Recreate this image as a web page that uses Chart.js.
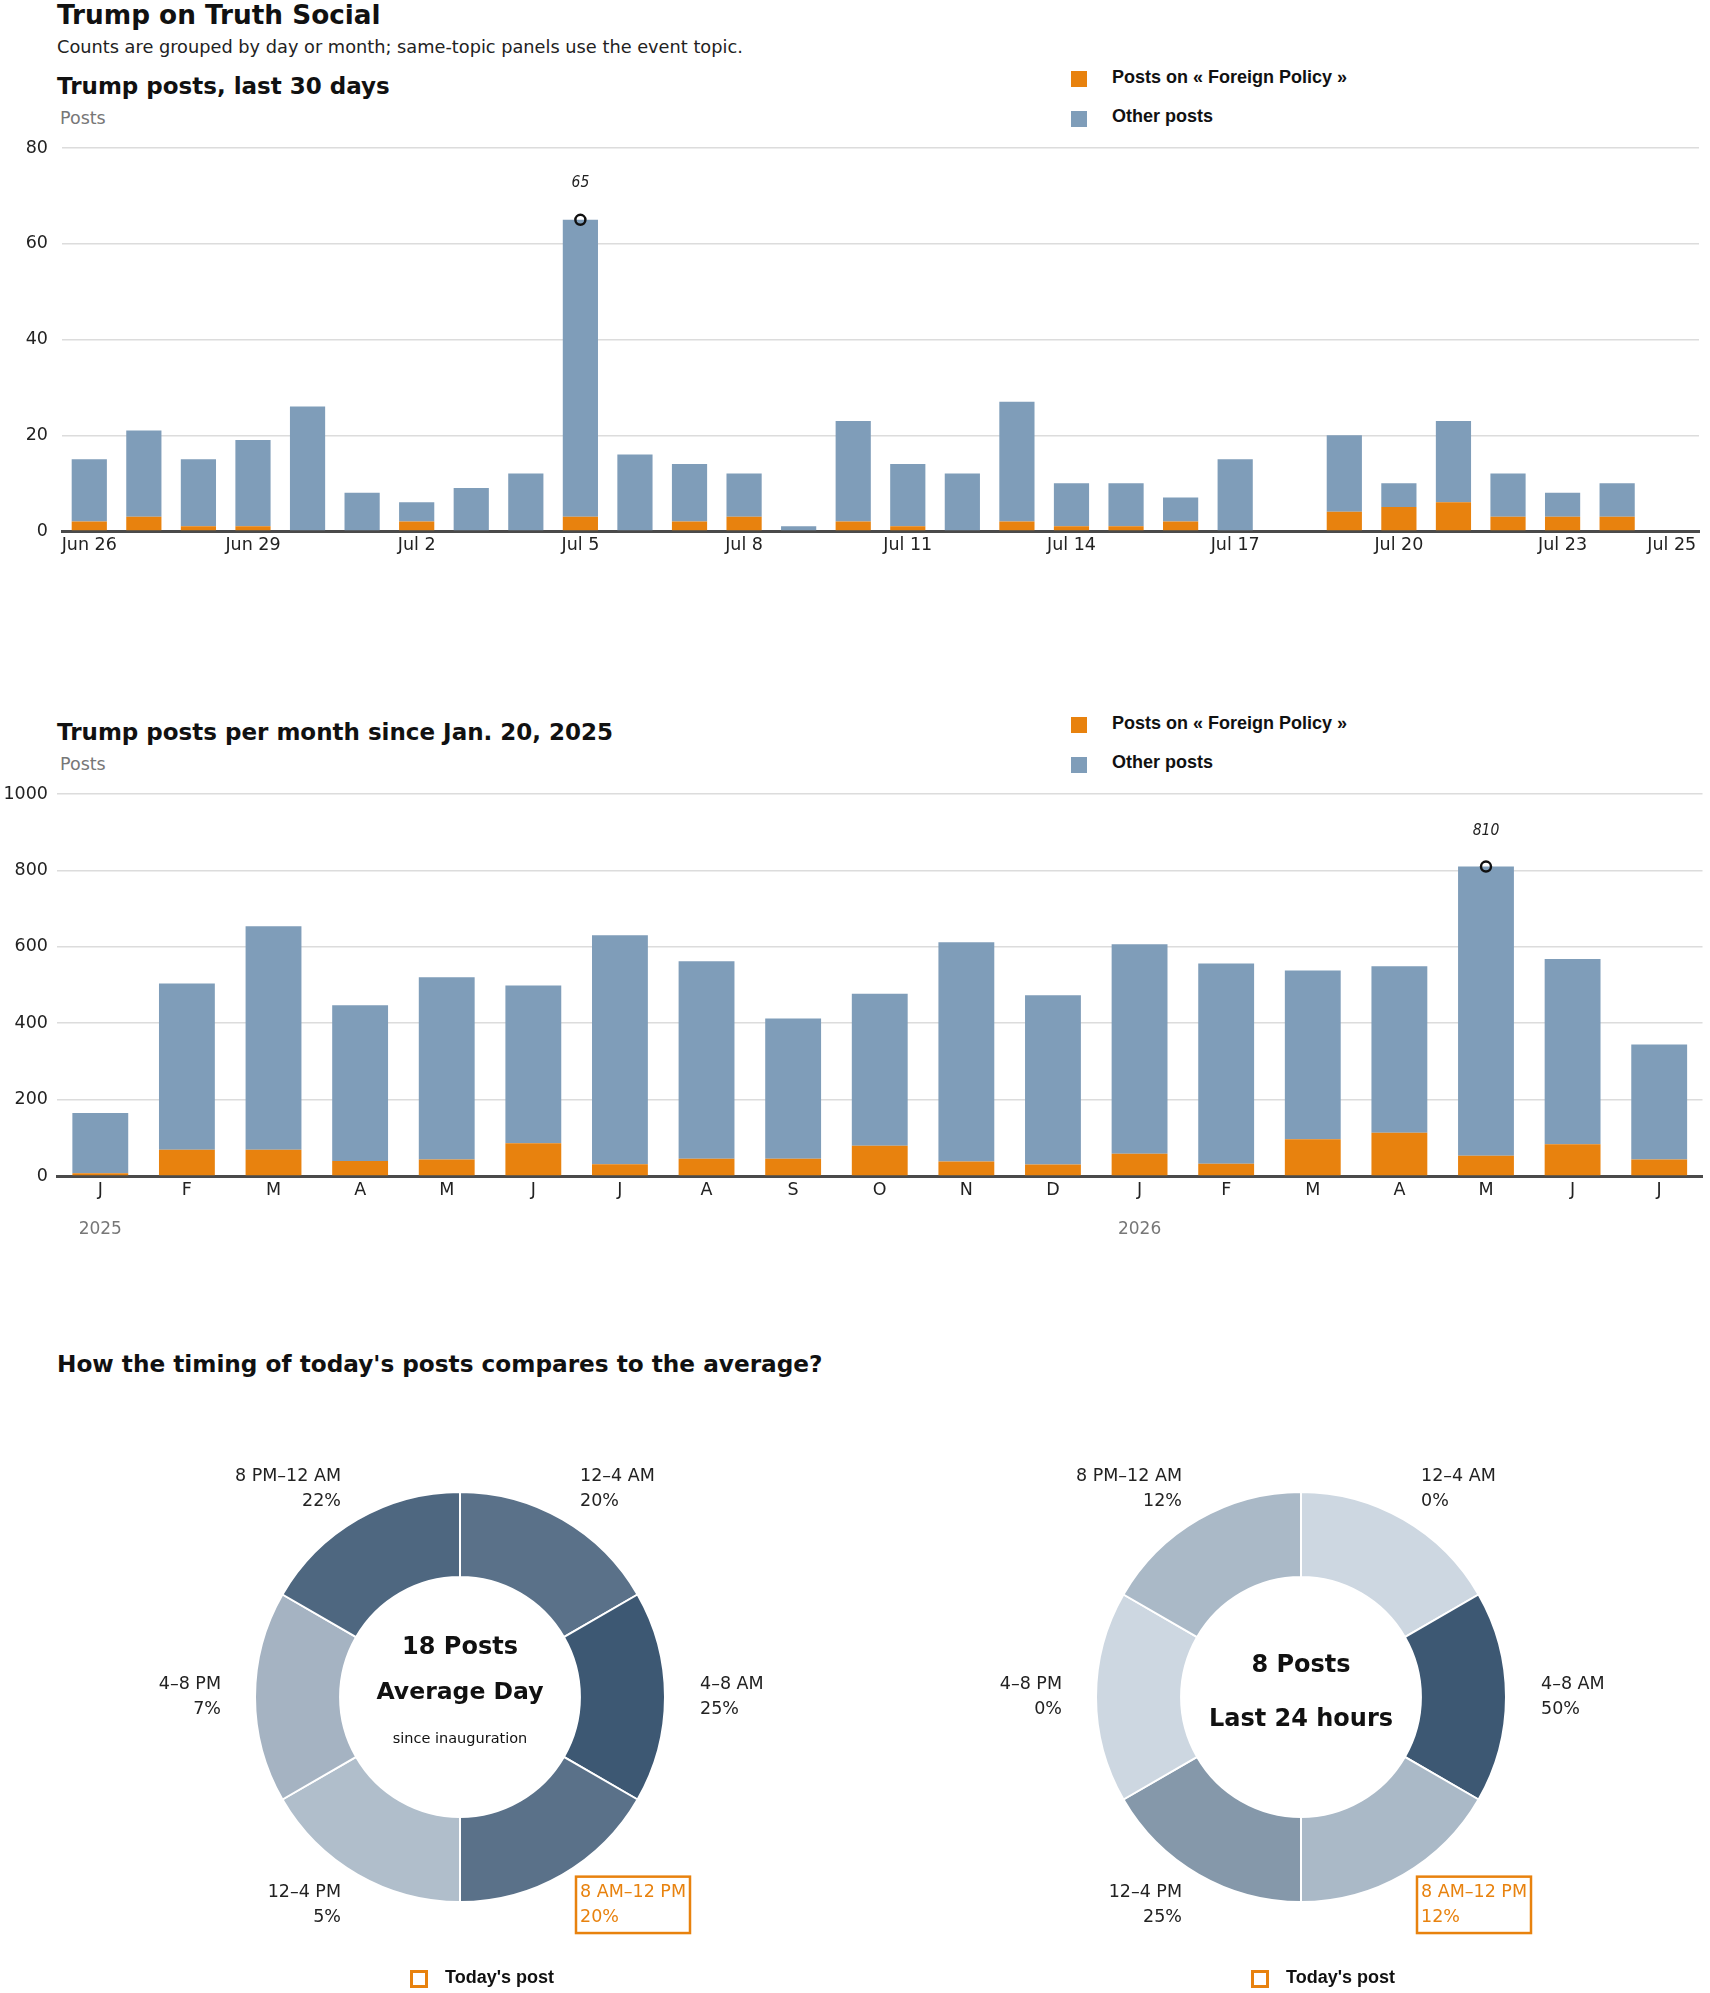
<!DOCTYPE html>
<html>
<head>
<meta charset="utf-8">
<title>Trump on Truth Social</title>
<script src="https://cdn.jsdelivr.net/npm/chart.js@4.4.1/dist/chart.umd.min.js"></script>
<style>
  html, body { margin: 0; padding: 0; background: #fff; }
  body {
    width: 1710px; height: 1993px; position: relative; overflow: hidden;
    font-family: "DejaVu Sans", sans-serif; color: #111;
  }
  .t { position: absolute; white-space: nowrap; line-height: 1; }
  .title { font-weight: bold; font-size: 26.3px; }
  .sub { font-size: 17.75px; color: #222; }
  .head { font-weight: bold; font-size: 23px; }
  .unit { font-size: 17.5px; color: #777; }
  .leg { font-family: "Liberation Sans", Arial, sans-serif; font-weight: bold; font-size: 18px; color: #111; }
  .sw { position: absolute; width: 16px; height: 16px; }
  canvas { position: absolute; }
</style>
</head>
<body>

<div class="t title" style="left:57px; top:2px;">Trump on Truth Social</div>
<div class="t sub" style="left:57px; top:39px;">Counts are grouped by day or month; same-topic panels use the event topic.</div>

<!-- panel 1 -->
<div class="t head" style="left:57px; top:74.5px;">Trump posts, last 30 days</div>
<div class="t unit" style="left:60px; top:109.5px;">Posts</div>
<div class="sw" style="left:1071px; top:71px; background:#E8820E;"></div>
<div class="t leg" style="left:1112px; top:67.5px;">Posts on « Foreign Policy »</div>
<div class="sw" style="left:1071px; top:111px; background:#7F9DB9;"></div>
<div class="t leg" style="left:1112px; top:106.8px;">Other posts</div>
<canvas id="daily" width="1710" height="448" style="left:0; top:123px; width:1710px; height:448px;"></canvas>

<!-- panel 2 -->
<div class="t head" style="left:57px; top:720.5px;">Trump posts per month since Jan. 20, 2025</div>
<div class="t unit" style="left:60px; top:755.5px;">Posts</div>
<div class="sw" style="left:1071px; top:717px; background:#E8820E;"></div>
<div class="t leg" style="left:1112px; top:713.5px;">Posts on « Foreign Policy »</div>
<div class="sw" style="left:1071px; top:757px; background:#7F9DB9;"></div>
<div class="t leg" style="left:1112px; top:752.8px;">Other posts</div>
<canvas id="monthly" width="1710" height="477" style="left:0; top:769px; width:1710px; height:477px;"></canvas>

<!-- panel 3 -->
<div class="t head" style="left:57px; top:1352px; font-size:23.2px;">How the timing of today's posts compares to the average?</div>
<canvas id="avgDay" width="760" height="620" style="left:80px; top:1397px; width:760px; height:620px;"></canvas>
<canvas id="lastDay" width="760" height="620" style="left:921px; top:1397px; width:760px; height:620px;"></canvas>

<script>
// ---- data ----
const dayLabels = [
  'Jun 26', 'Jun 27', 'Jun 28', 'Jun 29', 'Jun 30', 'Jul 1', 'Jul 2', 'Jul 3',
  'Jul 4', 'Jul 5', 'Jul 6', 'Jul 7', 'Jul 8', 'Jul 9', 'Jul 10', 'Jul 11',
  'Jul 12', 'Jul 13', 'Jul 14', 'Jul 15', 'Jul 16', 'Jul 17', 'Jul 18', 'Jul 19',
  'Jul 20', 'Jul 21', 'Jul 22', 'Jul 23', 'Jul 24', 'Jul 25',
];
const dayTickLabels = ['Jun 26', 'Jun 29', 'Jul 2', 'Jul 5', 'Jul 8', 'Jul 11', 'Jul 14', 'Jul 17', 'Jul 20', 'Jul 23', 'Jul 25'];
const dailyTotal = [15, 21, 15, 19, 26, 8, 6, 9, 12, 65, 16, 14, 12, 1, 23, 14, 12, 27, 10, 10, 7, 15, 0, 20, 10, 23, 12, 8, 10, 0];
const dailyForeign = [2, 3, 1, 1, 0, 0, 2, 0, 0, 3, 0, 2, 3, 0, 2, 1, 0, 2, 1, 1, 2, 0, 0, 4, 5, 6, 3, 3, 3, 0];
const dailyTicksY = [0, 20, 40, 60, 80];

const monthLabels = ['J', 'F', 'M', 'A', 'M', 'J', 'J', 'A', 'S', 'O', 'N', 'D', 'J', 'F', 'M', 'A', 'M', 'J', 'J'];
const yearLabelIndex = [0, 12];
const yearLabelText = ['2025', '2026'];
const monthlyTotal = [165, 504, 654, 447, 520, 499, 630, 562, 412, 477, 612, 473, 607, 556, 538, 549, 810, 568, 344];
const monthlyForeign = [7, 69, 69, 39, 43, 86, 31, 45, 45, 79, 38, 30, 58, 32, 96, 113, 53, 83, 43];
const monthlyTicksY = [0, 200, 400, 600, 800, 1000];

const timeSlots = ['12–4 AM', '4–8 AM', '8 AM–12 PM', '12–4 PM', '4–8 PM', '8 PM–12 AM'];
const slotWeights = [1, 1, 1, 1, 1, 1]; // every slot is drawn as an equal sixth
const avgDayShare = [20, 25, 20, 5, 7, 22];
const lastDayShare = [0, 50, 12, 25, 0, 12];
const currentSlot = 2;

// ---- styles ----
const ORANGE = '#E8820E';
const BLUE = '#7F9DB9';
const LIGHT = [205, 215, 225];
const DARK = [61, 88, 115];

Chart.defaults.font.family = '"DejaVu Sans", sans-serif';
Chart.defaults.font.size = 17.5;
Chart.defaults.color = '#222';

// annotation above the highest bar
const peakLabel = {
  id: 'peakLabel',
  afterDatasetsDraw(chart, args, opts) {
    const { ctx, scales: { x, y } } = chart;
    ctx.save();
    ctx.font = 'italic 15.5px "Liberation Sans Narrow", "DejaVu Sans Condensed", "Liberation Sans", sans-serif';
    ctx.fillStyle = '#222';
    ctx.textAlign = 'center';
    ctx.textBaseline = 'middle';
    ctx.fillText(String(opts.value), x.getPixelForValue(opts.index), y.getPixelForValue(opts.value) - opts.gap);
    ctx.restore();
  },
};

// year names under the first month of each year
const yearLabels = {
  id: 'yearLabels',
  afterDraw(chart) {
    const { ctx, chartArea, scales: { x } } = chart;
    ctx.save();
    ctx.font = '17px "DejaVu Sans", sans-serif';
    ctx.fillStyle = '#777';
    ctx.textAlign = 'center';
    ctx.textBaseline = 'middle';
    yearLabelIndex.forEach((idx, k) => {
      ctx.fillText(yearLabelText[k], x.getPixelForValue(idx), chartArea.bottom + 53.4);
    });
    ctx.restore();
  },
};

function stackedBarChart(canvas, cfg) {
  const other = cfg.total.map((v, i) => v - cfg.foreign[i]);
  const peak = Math.max(...cfg.total);
  const peakIndex = cfg.total.indexOf(peak);
  const marker = cfg.total.map((v, i) => (i === peakIndex ? v : null));

  return new Chart(canvas, {
    type: 'bar',
    data: {
      labels: cfg.labels,
      datasets: [
        {
          type: 'line', data: marker, stack: 'peak', order: 0,
          showLine: false, pointRadius: 5, pointBorderWidth: 2.5,
          pointBorderColor: '#111', pointBackgroundColor: 'rgba(0,0,0,0)',
        },
        { label: 'Posts on « Foreign Policy »', data: cfg.foreign, backgroundColor: ORANGE, stack: 'posts', order: 1 },
        { label: 'Other posts', data: other, backgroundColor: BLUE, stack: 'posts', order: 1 },
      ],
    },
    options: {
      responsive: false,
      animation: false,
      events: [],
      barPercentage: 0.645,
      categoryPercentage: 1,
      layout: { padding: cfg.padding },
      plugins: {
        legend: { display: false },
        tooltip: { enabled: false },
        peakLabel: { index: peakIndex, value: peak, gap: cfg.gap },
      },
      scales: {
        x: {
          stacked: true,
          grid: { display: false, drawTicks: false },
          border: { display: true, color: '#4a4a4a', width: 3 },
          ticks: {
            autoSkip: false, maxRotation: 0, padding: 4, color: '#222',
            callback: cfg.tickCallback,
          },
          afterFit: (s) => { s.height = cfg.xHeight; },
        },
        y: {
          stacked: true,
          min: 0,
          max: cfg.ticksY[cfg.ticksY.length - 1],
          afterBuildTicks: (s) => { s.ticks = cfg.ticksY.map((v) => ({ value: v })); },
          grid: { color: '#dcdcdc', lineWidth: 1.5, drawTicks: false },
          border: { display: false },
          ticks: { padding: cfg.yPad, color: '#222', callback: (v) => String(v) },
          afterFit: (s) => { s.width = cfg.yWidth; },
        },
      },
    },
    plugins: cfg.plugins,
  });
}

stackedBarChart(document.getElementById('daily'), {
  labels: dayLabels,
  total: dailyTotal,
  foreign: dailyForeign,
  ticksY: dailyTicksY,
  padding: { top: 25, right: 11, bottom: 0, left: 0 },
  xHeight: 40,
  yWidth: 62,
  yPad: 14,
  gap: 37,
  tickCallback: function (value) {
    const l = this.getLabelForValue(value);
    return dayTickLabels.includes(l) ? l : '';
  },
  plugins: [peakLabel],
});

stackedBarChart(document.getElementById('monthly'), {
  labels: monthLabels,
  total: monthlyTotal,
  foreign: monthlyForeign,
  ticksY: monthlyTicksY,
  padding: { top: 25, right: 5, bottom: 0, left: 0 },
  xHeight: 70,
  yWidth: 57,
  yPad: 9,
  gap: 36,
  tickCallback: function (value) { return this.getLabelForValue(value); },
  plugins: [peakLabel, yearLabels],
});

// ---- doughnuts ----
function shade(share) {
  const max = Math.max(...share);
  return share.map((v) => {
    const t = max ? v / max : 0;
    const c = LIGHT.map((l, k) => Math.round(l + (DARK[k] - l) * t));
    return `rgb(${c[0]},${c[1]},${c[2]})`;
  });
}

const donutText = {
  id: 'donutText',
  afterDraw(chart, args, o) {
    const { ctx } = chart;
    const arcs = chart.getDatasetMeta(0).data;
    const cx = arcs[0].x;
    const cy = arcs[0].y;
    ctx.save();
    ctx.textBaseline = 'middle';

    // centre
    ctx.textAlign = 'center';
    ctx.fillStyle = '#111';
    o.center.forEach((line) => {
      ctx.font = line.font;
      ctx.fillText(line.text, cx, cy + line.dy);
    });

    // slot labels, set on the mid angle of each arc
    ctx.font = '17.5px "DejaVu Sans", sans-serif';
    arcs.forEach((arc, i) => {
      const mid = (arc.startAngle + arc.endAngle) / 2;
      const ax = cx + Math.cos(mid) * 240;
      const ay = cy + Math.sin(mid) * 240;
      const right = Math.cos(mid) > 0.01;
      const lines = [timeSlots[i], o.share[i] + '%'];
      const hl = i === currentSlot;
      ctx.textAlign = right ? 'left' : 'right';
      ctx.fillStyle = hl ? ORANGE : '#222';
      const tx = right ? ax : ax + 1;
      ctx.fillText(lines[0], tx, ay - 12.3);
      ctx.fillText(lines[1], tx, ay + 12.2);
      if (hl) {
        const w = Math.max(...lines.map((l) => ctx.measureText(l).width));
        const x0 = right ? tx - 4 : tx - w - 4;
        ctx.strokeStyle = ORANGE;
        ctx.lineWidth = 2.5;
        ctx.strokeRect(x0, ay - 28.2, w + 8, 56.4);
      }
    });

    // legend
    ctx.strokeStyle = ORANGE;
    ctx.lineWidth = 3;
    ctx.strokeRect(cx - 48.5, cy + 274.5, 15, 15);
    ctx.textAlign = 'left';
    ctx.fillStyle = '#111';
    ctx.font = 'bold 18px "Liberation Sans", Arial, sans-serif';
    ctx.fillText("Today's post", cx - 15, cy + 281);
    ctx.restore();
  },
};

function donut(canvas, share, center) {
  return new Chart(canvas, {
    type: 'doughnut',
    data: {
      labels: timeSlots,
      datasets: [{
        data: slotWeights,
        backgroundColor: shade(share),
        borderColor: '#fff',
        borderWidth: 2,
      }],
    },
    options: {
      responsive: false,
      animation: false,
      events: [],
      cutout: '58.5%',
      layout: { padding: { left: 174, right: 174, top: 94, bottom: 114 } },
      plugins: {
        legend: { display: false },
        tooltip: { enabled: false },
        donutText: { share, center },
      },
    },
    plugins: [donutText],
  });
}

donut(document.getElementById('avgDay'), avgDayShare, [
  { text: '18 Posts', dy: -49.5, font: 'bold 24px "DejaVu Sans", sans-serif' },
  { text: 'Average Day', dy: -4, font: 'bold 23.5px "DejaVu Sans", sans-serif' },
  { text: 'since inauguration', dy: 42.4, font: '14.5px "DejaVu Sans", sans-serif' },
]);

donut(document.getElementById('lastDay'), lastDayShare, [
  { text: '8 Posts', dy: -31, font: 'bold 24px "DejaVu Sans", sans-serif' },
  { text: 'Last 24 hours', dy: 22.7, font: 'bold 24px "DejaVu Sans", sans-serif' },
]);
</script>
</body>
</html>
